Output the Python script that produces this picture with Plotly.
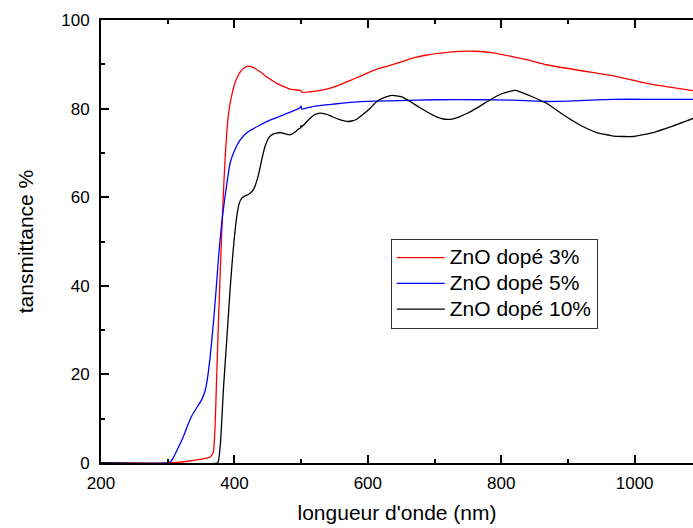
import plotly.graph_objects as go

# ZnO dopé 3%
x_3 = [200, 300, 330, 348, 358, 363, 366, 368.5, 371, 373.5, 376, 378.5, 381, 383.5, 386, 388.5, 391, 394,
       397.5, 401, 405, 410, 415, 420, 428, 438.5, 450, 463.5, 483.5, 498.5, 500, 501, 513, 525, 538,
       555, 573, 590, 605, 620, 638, 655, 670, 688, 713, 738, 760, 788, 818, 840, 868, 918, 968, 1018,
       1050, 1090]
y_3 = [0, 0, 0.4, 0.8, 1.1, 1.3, 1.8, 2.5, 8, 20, 31.5, 42, 52, 61, 68.5, 74.5, 78.6, 81.5,
       84, 85.9, 87.3, 88.5, 89.2, 89.6, 89.3, 88.3, 87, 85.7, 84.4, 84.1, 84.0, 83.7, 83.8, 84.0, 84.4,
       85.2, 86.3, 87.4, 88.4, 89.2, 90.0, 90.8, 91.5, 92.1, 92.6, 92.9, 92.95, 92.6, 91.7, 91.0, 89.9,
       88.6, 87.4, 85.7, 84.9, 84.0]

# ZnO dopé 5%
x_5 = [200, 300, 305, 308.5, 315, 323.5, 330, 336, 344, 351, 356, 359, 363.5, 368.5, 372.5, 376, 378.5,
       382, 386, 393.5, 400, 408.5, 420, 438.5, 455, 473.5, 490, 498.5, 500, 501, 510, 523.5, 548, 573,
       610, 648, 700, 768, 818, 868, 918, 968, 1018, 1090]
y_5 = [0, 0, 0.4, 1.2, 3.2, 6.0, 8.5, 10.6, 12.6, 14.3, 16.3, 18.5, 23.8, 31.6, 39, 46, 50.4,
       55.5, 60.2, 67.7, 70.5, 72.9, 74.7, 76.3, 77.5, 78.6, 79.6, 80.2, 80.6, 79.9, 80.2, 80.6, 81.0, 81.4,
       81.7, 81.8, 82.0, 82.0, 81.9, 81.6, 81.8, 82.1, 82.1, 82.1]

# ZnO dopé 10%
x_10 = [200, 374, 376, 379.5, 383.5, 388.5, 393.5, 397, 400, 403.5, 407, 411, 416, 421, 428.5, 436, 441,
        446, 452, 458.5, 468.5, 476, 483.5, 490, 496, 499, 500, 501, 507, 513.5, 520, 528.5, 536, 543.5,
        556, 568.5, 576, 583.5, 593, 603.5, 613.5, 623.5, 636, 650, 663.5, 676, 688.5, 702, 715.5, 728,
        738, 750, 763, 788, 800, 813, 821, 828, 843, 868, 893, 918, 943, 968, 998, 1028, 1058, 1090]
y_10 = [0, 0, 0.4, 5.3, 16.6, 27.8, 39.1, 46, 51, 55.6, 58.5, 59.8, 60.3, 60.6, 61.7, 65, 68.5,
        71.5, 73.5, 74.3, 74.6, 74.3, 74.1, 74.6, 75.4, 75.6, 76.2, 75.9, 76.8, 77.8, 78.6, 79.0, 78.8, 78.4,
        77.6, 77.1, 77.2, 77.6, 78.7, 80.1, 81.6, 82.4, 83.0, 82.7, 81.6, 80.4, 79.3, 78.2, 77.6, 77.7,
        78.2, 79.0, 80.1, 82.4, 83.3, 83.9, 84.1, 83.8, 82.9, 81.2, 78.6, 76.3, 74.6, 73.8, 73.7, 74.6, 76.1, 77.9]

series = [("ZnO dopé 3%", x_3, y_3, "#ff0000"),
          ("ZnO dopé 5%", x_5, y_5, "#0000ff"),
          ("ZnO dopé 10%", x_10, y_10, "#000000")]

x_ticks = [200, 400, 600, 800, 1000]
y_ticks = [0, 20, 40, 60, 80, 100]

fig = go.Figure()
for name, xs, ys, col in series:
    fig.add_trace(go.Scatter(x=xs, y=ys, mode="lines",
                             name='<span style="font-size:21px">' + name + "</span>",
                             hovertemplate=name + ": %{x}, %{y}<extra></extra>",
                             line=dict(color=col, width=1.3, shape="spline", smoothing=0.4)))

font_family = "Liberation Sans, Arial, sans-serif"
fig.update_layout(
    width=693, height=528,
    margin=dict(l=101, r=0, t=20, b=64.5),
    paper_bgcolor="white", plot_bgcolor="white",
    font=dict(family=font_family, color="black"),
    showlegend=True,
    legend=dict(x=0.4894, y=0.5062, xanchor="left", yanchor="top",
                bgcolor="white", bordercolor="#333333", borderwidth=1,
                font=dict(size=17.5, family=font_family), itemwidth=48,
                tracegroupgap=0),
)
fig.update_xaxes(
    range=[200, 1087.5], tickvals=x_ticks, ticktext=[str(v) for v in x_ticks],
    showgrid=False, zeroline=False,
    showline=True, linecolor="black", linewidth=1.8, mirror="ticks",
    ticks="inside", ticklen=8, tickwidth=1.8, tickcolor="black",
    tickfont=dict(size=17), ticklabelstandoff=4,
    minor=dict(ticks="inside", ticklen=4, tickwidth=1.5, tickcolor="black", dtick=100, tick0=200, showgrid=False),
    title=dict(text="longueur d'onde (nm)", font=dict(size=21), standoff=13),
)
fig.update_yaxes(
    range=[0, 100], tickvals=y_ticks, ticktext=[str(v) for v in y_ticks],
    showgrid=False, zeroline=False,
    showline=True, linecolor="black", linewidth=1.8,
    ticks="inside", ticklen=8, tickwidth=1.8, tickcolor="black",
    tickfont=dict(size=17), ticklabelstandoff=6,
    minor=dict(ticks="inside", ticklen=4, tickwidth=1.5, tickcolor="black", dtick=10, tick0=0, showgrid=False),
    title=dict(text="tansmittance %", font=dict(size=21), standoff=22),
)

fig.write_html("out.html")
